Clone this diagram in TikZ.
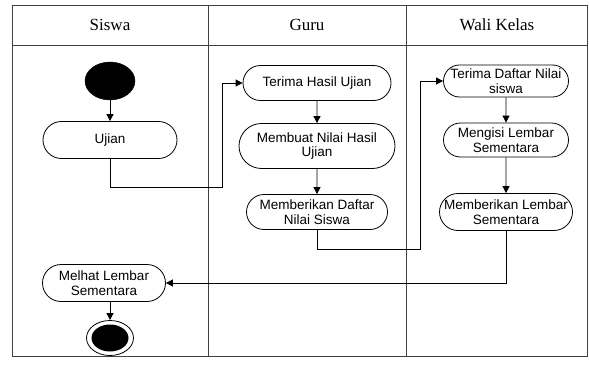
\documentclass[tikz,border=0pt]{standalone}
\usepackage{fontspec}
\setmainfont{Liberation Serif}
\setsansfont{Liberation Sans}
\usetikzlibrary{shapes.misc,shapes.geometric,arrows.meta}
\begin{document}
\begin{tikzpicture}[x=1pt,y=-1pt,
  act/.style={draw,line width=0.8pt,rounded rectangle,inner sep=1pt,align=center,
    font=\sffamily\fontsize{13.5}{14.5}\selectfont},
  flow/.style={line width=0.8pt,-{Triangle[length=7pt,width=7pt]}},
  plain/.style={line width=0.8pt},
  lane/.style={line width=0.9pt,draw=black!75},
  head/.style={font=\rmfamily\fontsize{17}{19}\selectfont}]
\useasboundingbox (0,0) rectangle (589,369);
% swimlanes
\draw[lane] (12,5) rectangle (587,356);
\draw[lane] (12,45) -- (587,45);
\draw[lane] (208,5) -- (208,356);
\draw[lane] (406,5) -- (406,356);
\node[head] (h1) at (110,25) {Siswa};
\node[head] (h2) at (307,25) {Guru};
\node[head] (h3) at (497,25) {Wali Kelas};
% nodes
\node[ellipse,fill=black,draw,minimum width=50pt,minimum height=38pt,inner sep=0pt] (start) at (110,81) {};
\node[act,minimum width=136pt,minimum height=37pt] (ujian) at (110,140) {Ujian};
\node[act,minimum width=150pt,minimum height=35pt] (terima) at (317,83) {Terima Hasil Ujian};
\node[act,minimum width=158pt,minimum height=45pt] (membuat) at (317,146) {Membuat Nilai Hasil\\Ujian};
\node[act,minimum width=143pt,minimum height=35pt] (memdaftar) at (317,212) {Memberikan Daftar\\Nilai Siswa};
\node[act,minimum width=127pt,minimum height=32pt] (terdaftar) at (506,81) {Terima Daftar Nilai\\siswa};
\node[act,minimum width=127pt,minimum height=34pt] (mengisi) at (506,140) {Mengisi Lembar\\Sementara};
\node[act,minimum width=130pt,minimum height=37pt,inner sep=0pt] (memlembar) at (506,212) {Memberikan Lembar\\Sementara};
\node[act,minimum width=125pt,minimum height=37pt] (melhat) at (104,283) {Melhat Lembar\\Sementara};
\node[ellipse,draw,line width=0.8pt,minimum width=47pt,minimum height=35pt,inner sep=0pt] (endc) at (110,338) {};
\node[ellipse,fill=black,minimum width=37pt,minimum height=27pt,inner sep=0pt] (endin) at (110,338) {};
% junction points
\coordinate (j1) at (222,187);
\coordinate (j2) at (420,249);
% connectors
\draw[flow] (start) -- (ujian);
\draw[flow] (ujian.south) |- (j1) |- (terima.west);
\draw[flow] (terima) -- (membuat);
\draw[flow] (membuat) -- (memdaftar);
\draw[flow] (memdaftar.south) |- (j2) |- (terdaftar.west);
\draw[flow] (terdaftar) -- (mengisi);
\draw[flow] (mengisi) -- (memlembar);
\draw[flow] (memlembar.south) |- (melhat.east);
\draw[flow] (melhat.south -| endc.north) -- (endc.north);
\end{tikzpicture}
\end{document}
